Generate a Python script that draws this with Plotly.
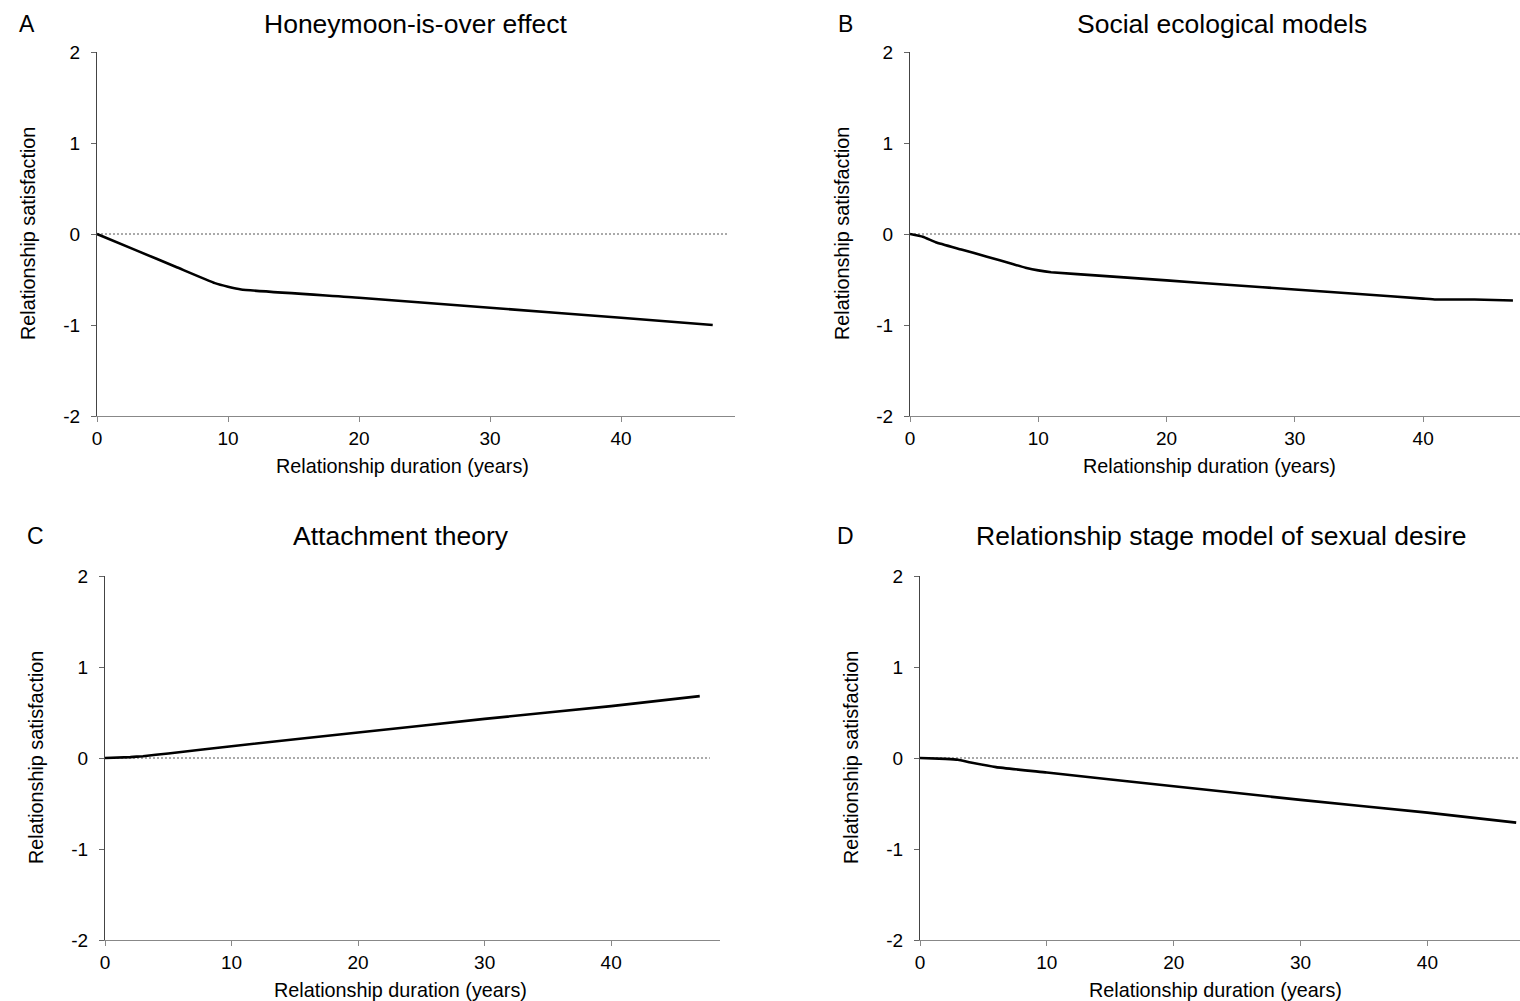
import plotly.graph_objects as go

W, H = 1520, 1001

# Data
a_x = [0, 3, 6, 9, 10, 11, 20, 30, 40, 47]
a_y = [0, -0.18, -0.36, -0.54, -0.58, -0.61, -0.70, -0.81, -0.92, -1.00]

b_x = [0, 1, 2, 4, 6, 8, 9, 10, 11, 15, 20, 25, 30, 35, 40, 41, 44, 47]
b_y = [0, -0.03, -0.09, -0.17, -0.25, -0.33, -0.37, -0.40, -0.42, -0.46, -0.51, -0.56, -0.61, -0.66, -0.71, -0.72, -0.72, -0.73]

c_x = [0, 2, 3, 5, 10, 20, 30, 40, 47]
c_y = [0, 0.01, 0.02, 0.05, 0.13, 0.28, 0.43, 0.57, 0.68]

d_x = [0, 2, 3, 4, 6, 10, 20, 30, 40, 47]
d_y = [0, -0.01, -0.02, -0.05, -0.10, -0.16, -0.31, -0.46, -0.60, -0.71]

titles = ["Honeymoon-is-over effect", "Social ecological models",
          "Attachment theory", "Relationship stage model of sexual desire"]
letters = ["A", "B", "C", "D"]
xtick_vals = [0, 10, 20, 30, 40]
ytick_vals = [-2, -1, 0, 1, 2]
x_title = "Relationship duration (years)"
y_title = "Relationship satisfaction"

# layout (pixels)
panels = [
    dict(x=a_x, y=a_y, x0=97, x1=735, y0=52, y1=416, xmax=48.7, dash_end=48.1,
         title=(416, 24), letter=(27, 24), ytit_x=28, xtit=(402, 466)),
    dict(x=b_x, y=b_y, x0=910, x1=1520, y0=52, y1=416, xmax=47.55, dash_end=47.55,
         title=(1222, 24), letter=(845, 24), ytit_x=842, xtit=(1209, 466)),
    dict(x=c_x, y=c_y, x0=105, x1=720, y0=576, y1=940, xmax=48.6, dash_end=47.8,
         title=(401, 536), letter=(35, 536), ytit_x=36, xtit=(400, 990)),
    dict(x=d_x, y=d_y, x0=920, x1=1520, y0=576, y1=940, xmax=47.3, dash_end=47.3,
         title=(1221, 536), letter=(845, 536), ytit_x=851, xtit=(1215, 990)),
]

FONT = "Liberation Sans, Arial, sans-serif"

def px(x):
    return x / W

def py(y):
    return 1 - y / H

fig = go.Figure()
annotations = []
layout_axes = {}

for i, p in enumerate(panels):
    n = i + 1
    xa = "x" if n == 1 else f"x{n}"
    ya = "y" if n == 1 else f"y{n}"
    fig.add_trace(go.Scatter(x=[0, p["dash_end"]], y=[0, 0], mode="lines",
                             line=dict(color="#555555", width=1, dash="2px,2px"),
                             xaxis=xa, yaxis=ya, showlegend=False, hoverinfo="skip"))
    fig.add_trace(go.Scatter(x=p["x"], y=p["y"], mode="lines",
                             line=dict(color="black", width=2.6, shape="spline", smoothing=0.4),
                             xaxis=xa, yaxis=ya, showlegend=False))
    xkey = "xaxis" if n == 1 else f"xaxis{n}"
    ykey = "yaxis" if n == 1 else f"yaxis{n}"
    layout_axes[xkey] = dict(
        domain=[px(p["x0"]), min(px(p["x1"]), 1.0)], anchor=ya, automargin=False,
        range=[0, p["xmax"]], tickvals=xtick_vals, ticks="outside", ticklen=5,
        tickcolor="#888888", showline=True, linecolor="#888888", linewidth=1.3,
        showgrid=False, zeroline=False, tickfont=dict(family=FONT, size=19, color="black"),
    )
    layout_axes[ykey] = dict(
        domain=[py(p["y1"]), py(p["y0"])], anchor=xa, automargin=False,
        range=[-2, 2], tickvals=ytick_vals, ticktext=[str(v) for v in ytick_vals],
        ticks="outside", ticklen=5, tickcolor="#666666", showline=True,
        linecolor="#444444", linewidth=1.2, showgrid=False, zeroline=False,
        ticklabelstandoff=7,
        tickfont=dict(family=FONT, size=19, color="black"),
    )
    annotations.append(dict(text=titles[i], x=px(p["title"][0]), y=py(p["title"][1]),
                            xref="paper", yref="paper", showarrow=False,
                            xanchor="center", yanchor="middle",
                            font=dict(family=FONT, size=26.5, color="black")))
    annotations.append(dict(text=letters[i], x=px(p["letter"][0]), y=py(p["letter"][1]),
                            xref="paper", yref="paper", showarrow=False,
                            xanchor="center", yanchor="middle",
                            font=dict(family=FONT, size=23, color="black")))
    annotations.append(dict(text=y_title, x=px(p["ytit_x"]), y=py((p["y0"] + p["y1"]) / 2),
                            xref="paper", yref="paper", showarrow=False, textangle=-90,
                            xanchor="center", yanchor="middle",
                            font=dict(family=FONT, size=19.8, color="black")))
    annotations.append(dict(text=x_title, x=px(p["xtit"][0]), y=py(p["xtit"][1]),
                            xref="paper", yref="paper", showarrow=False,
                            xanchor="center", yanchor="middle",
                            font=dict(family=FONT, size=19.8, color="black")))

fig.update_layout(
    template="none",
    width=W, height=H, margin=dict(l=0, r=0, t=0, b=0, pad=0),
    paper_bgcolor="white", plot_bgcolor="white",
    annotations=annotations, **layout_axes,
)

fig.write_html("out.html", config={"displayModeBar": False},
               post_script="document.body.style.margin='0';document.body.style.overflow='hidden';")
